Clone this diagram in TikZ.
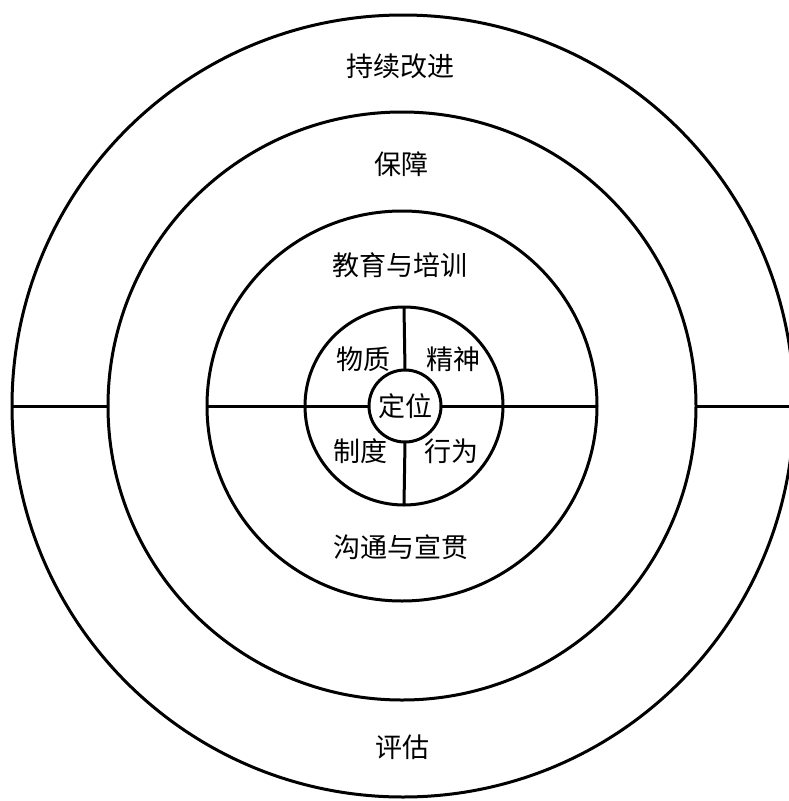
\documentclass[tikz,border=0pt]{standalone}
\usepackage{fontspec}
\newfontfamily\cjk{Noto Sans CJK SC}
\usetikzlibrary{positioning}
\tikzset{%
  % Specifications for style of nodes:
        ring/.style = {circle, draw=black, line width=3pt, inner sep=0pt,
                       outer sep=0pt},
       label/.style = {font=\cjk\fontsize{27}{31}\selectfont, inner sep=0pt},
}

\begin{document}
\begin{tikzpicture}[x=1pt, y=-1pt, line width=3pt]
\useasboundingbox (0,0) rectangle (788,801);

\node (outer)  [ring, minimum size=782pt] at (403,406) {};
\node (guard)  [ring, minimum size=588pt] at (402,406) {};
\node (edu)    [ring, minimum size=390pt] at (402,406) {};
\node (quad)   [ring, minimum size=198pt] at (404,406) {};
\node (core)   [ring, minimum size=72pt]  at (405,406) {};

\draw (outer.west) -- (guard.west);
\draw (guard.east) -- (outer.east);
\draw (edu.west)   -- (core.west);
\draw (core.east)  -- (edu.east);
\draw (quad.north) -- (core.north);
\draw (core.south) -- (quad.south);

\node (improve) [label] at (400,66)  {持续改进};
\node (support) [label] at (401,164) {保障};
\node (train)   [label] at (400,265) {教育与培训};
\node (matter)  [label] at (363,359) {物质};
\node (spirit)  [label] at (453,359) {精神};
\node (pos)     [label] at (405,406) {定位};
\node (system)  [label] at (360,451) {制度};
\node (act)     [label] at (451,451) {行为};
\node (comm)    [label] at (401,547) {沟通与宣贯};
\node (assess)  [label] at (402,747) {评估};
\end{tikzpicture}
\end{document}
